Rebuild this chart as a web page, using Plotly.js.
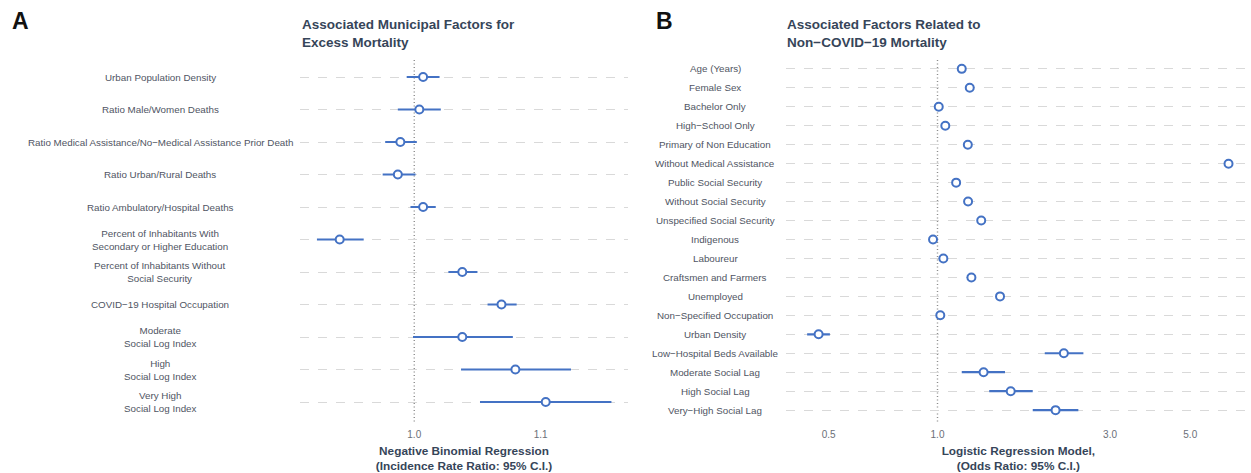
<!DOCTYPE html>
<html>
<head>
<meta charset="utf-8">
<script src="https://cdn.plot.ly/plotly-3.0.1.min.js"></script>
<style>html,body{margin:0;padding:0;background:#fff;}#chart{width:1251px;height:473px;}</style>
</head>
<body>
<div id="chart"></div>
<script>
// ---------- Panel A data ----------
const labelsA = [
  "Urban Population Density",
  "Ratio Male/Women Deaths",
  "Ratio Medical Assistance/No\u2212Medical Assistance Prior Death",
  "Ratio Urban/Rural Deaths",
  "Ratio Ambulatory/Hospital Deaths",
  "Percent of Inhabitants With<br>Secondary or Higher Education",
  "Percent of Inhabitants Without<br>Social Security",
  "COVID\u221219 Hospital Occupation",
  "Moderate<br>Social Log Index",
  "High<br>Social Log Index",
  "Very High<br>Social Log Index"
];
const estA = [1.007, 1.004, 0.989, 0.987, 1.007, 0.941, 1.038, 1.069, 1.038, 1.080, 1.104];
const loA  = [0.994, 0.987, 0.977, 0.975, 0.997, 0.923, 1.027, 1.058, 0.999, 1.037, 1.052];
const hiA  = [1.020, 1.021, 1.002, 1.001, 1.017, 0.960, 1.050, 1.081, 1.078, 1.124, 1.156];
const ticksA = [1.0, 1.1];
const tickTextA = ["1.0", "1.1"];

// ---------- Panel B data ----------
const labelsB = [
  "Age (Years)",
  "Female Sex",
  "Bachelor Only",
  "High\u2212School Only",
  "Primary of Non Education",
  "Without Medical Assistance",
  "Public Social Security",
  "Without Social Security",
  "Unspecified Social Security",
  "Indigenous",
  "Laboureur",
  "Craftsmen and Farmers",
  "Unemployed",
  "Non\u2212Specified Occupation",
  "Urban Density",
  "Low\u2212Hospital Beds Available",
  "Moderate Social Lag",
  "High Social Lag",
  "Very\u2212High Social Lag"
];
const estB = [1.167, 1.228, 1.008, 1.051, 1.213, 6.38, 1.126, 1.215, 1.321, 0.972, 1.038, 1.241, 1.489, 1.018, 0.469, 2.236, 1.341, 1.594, 2.121];
const loB  = [1.160, 1.220, 1.002, 1.044, 1.205, 6.30, 1.119, 1.207, 1.312, 0.966, 1.031, 1.233, 1.479, 1.011, 0.436, 1.980, 1.167, 1.390, 1.834];
const hiB  = [1.174, 1.236, 1.014, 1.058, 1.221, 6.46, 1.133, 1.223, 1.330, 0.978, 1.045, 1.249, 1.499, 1.025, 0.504, 2.532, 1.537, 1.834, 2.452];
const ticksB = [0.5, 1.0, 3.0, 5.0];
const tickTextB = ["0.5", "1.0", "3.0", "5.0"];

// ---------- styling ----------
const W = 1251, H = 473;
const FONT = "Liberation Sans, Arial, Helvetica, sans-serif";
const BLUE = "#4472C4";
const LABEL_COLOR = "#4f5563";
const TITLE_COLOR = "#364559";
const px = v => v / W;
const py = v => 1 - v / H;

function trace(labels, est, lo, hi, xa, ya) {
  return {
    type: "scatter", mode: "markers",
    x: est, y: labels, xaxis: xa, yaxis: ya,
    error_x: {
      type: "data", symmetric: false,
      array: est.map((e, i) => hi[i] - e),
      arrayminus: est.map((e, i) => e - lo[i]),
      color: BLUE, thickness: 2.2, width: 0
    },
    marker: { symbol: "circle", size: 8, color: "#ffffff", line: { color: BLUE, width: 2 } },
    hoverinfo: "x+y", showlegend: false
  };
}

const data = [
  trace(labelsA, estA, loA, hiA, "x", "y"),
  trace(labelsB, estB, loB, hiB, "x2", "y2")
];

const yDom = [py(421.5), py(57.5)];
const gridStyle = { showgrid: true, gridcolor: "#d9d9d9", gridwidth: 1, griddash: "dash",
  showticklabels: false, ticks: "", zeroline: false, showline: false, type: "category" };

const layout = {
  width: W, height: H,
  margin: { l: 0, r: 0, t: 0, b: 0 },
  paper_bgcolor: "#ffffff", plot_bgcolor: "#ffffff",
  font: { family: FONT, color: LABEL_COLOR },
  showlegend: false,
  xaxis: {
    domain: [px(300), px(628)], anchor: "y",
    range: [0.9096, 1.1691], showgrid: false, zeroline: false, showline: false,
    tickvals: ticksA, ticktext: tickTextA, ticks: "", ticklabelstandoff: 5,
    tickfont: { family: FONT, size: 10, color: "#6b6f78" },
    title: { text: "<b>Negative Binomial Regression<br>(Incidence Rate Ratio: 95% C.I.)</b>",
      font: { family: FONT, size: 11.8, color: TITLE_COLOR }, standoff: 9 }
  },
  yaxis: Object.assign({ domain: yDom, anchor: "x",
    categoryorder: "array", categoryarray: labelsA, range: [labelsA.length - 0.4, -0.6] }, gridStyle),
  xaxis2: {
    domain: [px(785.7), 1], anchor: "y2", type: "log",
    range: [-0.4198, 0.867], showgrid: false, zeroline: false, showline: false,
    tickvals: ticksB, ticktext: tickTextB, ticks: "", ticklabelstandoff: 5,
    tickfont: { family: FONT, size: 10, color: "#6b6f78" },
    title: { text: "<b>Logistic Regression Model,<br>(Odds Ratio: 95% C.I.)</b>",
      font: { family: FONT, size: 11.8, color: TITLE_COLOR }, standoff: 9 }
  },
  yaxis2: Object.assign({ domain: yDom, anchor: "x2",
    categoryorder: "array", categoryarray: labelsB, range: [labelsB.length - 0.4, -0.6] }, gridStyle),
  shapes: [
    { type: "line", xref: "x", yref: "y domain", x0: 1, x1: 1, y0: 0, y1: 1,
      line: { color: "#8c8c8c", width: 1.4, dash: "1px,2.5px" }, layer: "below" },
    { type: "line", xref: "x2", yref: "y2 domain", x0: 1, x1: 1, y0: 0, y1: 1,
      line: { color: "#8c8c8c", width: 1.4, dash: "1px,2.5px" }, layer: "below" }
  ],
  annotations: []
};

// row labels (centered, as in the reference)
labelsA.forEach(l => layout.annotations.push({
  text: l, xref: "paper", yref: "y", x: px(160), y: l, xanchor: "center", yanchor: "middle",
  align: "center", showarrow: false, font: { family: FONT, size: 9.8, color: LABEL_COLOR }
}));
labelsB.forEach(l => layout.annotations.push({
  text: l, xref: "paper", yref: "y2", x: px(715), y: l, xanchor: "center", yanchor: "middle",
  align: "center", showarrow: false, font: { family: FONT, size: 9.8, color: LABEL_COLOR }
}));

// panel titles
layout.annotations.push({
  text: "<b>Associated Municipal Factors for<br>Excess Mortality</b>", xref: "paper", yref: "paper",
  x: px(300), y: py(15), xanchor: "left", yanchor: "top", align: "left", showarrow: false,
  font: { family: FONT, size: 13.5, color: TITLE_COLOR }
});
layout.annotations.push({
  text: "<b>Associated Factors Related to<br>Non\u2212COVID\u221219 Mortality</b>", xref: "paper", yref: "paper",
  x: px(785), y: py(15), xanchor: "left", yanchor: "top", align: "left", showarrow: false,
  font: { family: FONT, size: 13.5, color: TITLE_COLOR }
});
// panel letters
layout.annotations.push({
  text: "<b>A</b>", xref: "paper", yref: "paper", x: px(10), y: py(6), xanchor: "left", yanchor: "top",
  showarrow: false, font: { family: FONT, size: 23, color: "#111111" }
});
layout.annotations.push({
  text: "<b>B</b>", xref: "paper", yref: "paper", x: px(654), y: py(6), xanchor: "left", yanchor: "top",
  showarrow: false, font: { family: FONT, size: 23, color: "#111111" }
});

Plotly.newPlot("chart", data, layout, { staticPlot: true, displayModeBar: false });
</script>
</body>
</html>
